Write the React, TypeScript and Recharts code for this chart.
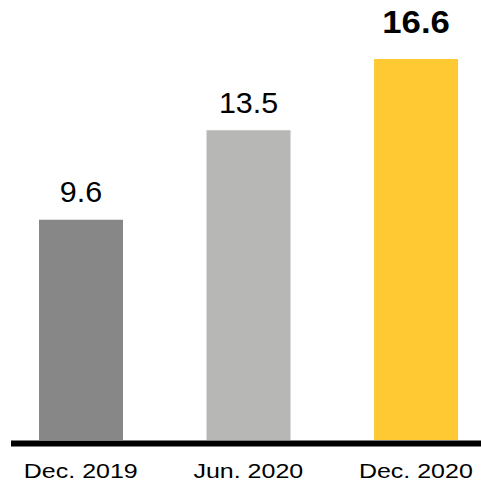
import React from 'react';
import { BarChart, Bar, XAxis, YAxis, Cell, LabelList } from 'recharts';

const categories = ['Dec. 2019', 'Jun. 2020', 'Dec. 2020'];
const values = [9.6, 13.5, 16.6];
const colors = ['#878787', '#b7b7b6', '#fec933'];
const highlighted = [false, false, true];

const data = categories.map((name, i) => ({ name, value: values[i], hl: highlighted[i] }));

const Tick = (props: any) => {
  const { x, y, payload } = props;
  return (
    <g transform={`translate(${x},${y + 34.5}) scale(1.25,1)`}>
      <text x={0} y={0} textAnchor="middle" fontFamily="Liberation Sans, Arial, sans-serif" fontSize={20} fill="#000">
        {payload.value}
      </text>
    </g>
  );
};

const ValueLabel = (props: any) => {
  const { x, y, width, value, index } = props;
  const cx = x + width / 2;
  const hl = highlighted[index];
  return (
    <g transform={`translate(${cx},${y - (hl ? 25.7 : 17.5)}) scale(${hl ? 1.12 : 1.05},1)`}>
      <text
        x={0}
        y={0}
        textAnchor="middle"
        fontFamily="Liberation Sans, Arial, sans-serif"
        fontSize={hl ? 31 : 29}
        fontWeight={hl ? 'bold' : 'normal'}
        fill="#000"
      >
        {value}
      </text>
    </g>
  );
};

export default function App() {
  return (
    <div style={{ position: 'absolute', left: 0, top: 0, width: 481, height: 485, background: '#fff' }}>
      <BarChart
        width={481}
        height={485}
        data={data}
        margin={{ top: 27, right: 0, bottom: 11.5, left: 11 }}
      >
        <XAxis
          dataKey="name"
          height={30}
          padding={{ left: -14, right: -18.6 }}
          axisLine={{ stroke: '#000', strokeWidth: 6 }}
          tickLine={false}
          tickSize={0}
          tickMargin={0}
          tick={<Tick />}
          interval={0}
        />
        <YAxis hide width={0} domain={[-0.1525, 18]} />
        <Bar dataKey="value" barSize={84} isAnimationActive={false}>
          {data.map((d, i) => (
            <Cell key={d.name} fill={colors[i]} />
          ))}
          <LabelList dataKey="value" content={<ValueLabel />} />
        </Bar>
      </BarChart>
    </div>
  );
}
